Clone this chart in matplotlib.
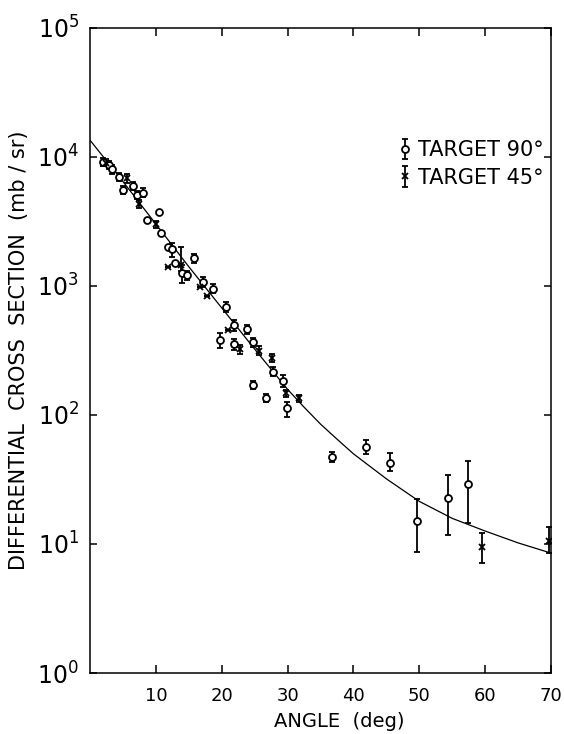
import matplotlib
matplotlib.use("Agg")
import matplotlib.pyplot as plt
import numpy as np

plt.rcParams['font.family'] = ['DejaVu Sans']
plt.rcParams['mathtext.default'] = 'regular'

# target 90 deg (open circles)
ang90 = [2.0, 2.9, 3.4, 4.4, 5.0, 6.5, 7.2, 8.0, 8.7, 10.4, 10.75, 11.9, 12.4, 12.9,
         13.9, 14.8, 15.8, 17.2, 18.7, 19.8, 20.7, 21.8, 21.85, 23.8, 24.7, 24.8,
         26.7, 27.8, 29.35, 29.85, 36.8, 41.9, 45.6, 49.6, 54.4, 57.4]
val90 = [9200, 8700, 8000, 7000, 5550, 5950, 5050, 5300, 3250, 3770, 2590, 1995, 1930, 1500,
         1250, 1217, 1640, 1080, 955, 379, 688, 495, 355, 462, 171, 367,
         135, 217, 184, 113, 47.5, 56.5, 42.7, 15.2, 22.9, 29.0]
lo90 = [700, 600, 600, 500, 400, 450, 350, 400, 0, 0, 0, 0, 250, 0,
        200, 100, 120, 100, 80, 50, 60, 50, 35, 40, 12, 30,
        10, 18, 20, 16, 4.5, 7, 6, 6.6, 11.2, 14.5]
hi90 = [700, 600, 600, 500, 400, 450, 350, 400, 0, 0, 0, 0, 230, 0,
        200, 100, 120, 100, 80, 55, 60, 50, 35, 40, 12, 30,
        10, 18, 20, 14, 4.5, 7, 7.8, 7.0, 11.2, 14.8]

# target 45 deg (crosses)
ang45 = [2.45, 5.6, 7.4, 10.0, 11.9, 13.8, 16.7, 17.7, 20.9, 22.7, 25.7, 27.7,
         29.8, 31.8, 59.5, 69.7]
val45 = [9040, 6840, 4320, 3010, 1400, 1455, 990, 840, 456, 323, 315, 278,
         147, 135, 9.4, 10.5]
lo45 = [600, 500, 300, 200, 0, 150, 0, 0, 0, 25, 25, 20,
        10, 8, 2.3, 2.0]
hi45 = [600, 500, 300, 200, 0, 560, 0, 0, 0, 25, 25, 20,
        10, 8, 2.7, 3.0]

# smooth curve
curve_ang = [0, 5, 10, 15, 20, 25, 30, 32.5, 35, 37.5, 40, 42.5, 45, 50, 55, 60, 65, 70]
curve_val = [13500, 6450, 3020, 1410, 676, 324, 158, 115, 85, 65, 50, 40, 32, 21.4,
             15.8, 12.6, 10.2, 8.5]

fig = plt.figure(figsize=(5.64, 7.34), dpi=100)
ax = fig.add_axes([0.1596, 0.0831, 0.8174, 0.8788])

ax.plot(curve_ang, curve_val, color='black', lw=0.9, zorder=1)

e90 = ax.errorbar(ang90, val90, yerr=[lo90, hi90], fmt='o', ms=5, mfc='white',
                  mec='black', mew=1.3, ecolor='black', elinewidth=1.3, capsize=2.5,
                  capthick=1.3, zorder=3)
e45 = ax.errorbar(ang45, val45, yerr=[lo45, hi45], fmt='x', ms=4, mec='black',
                  mew=1.3, ecolor='black', elinewidth=1.3, capsize=2.5,
                  capthick=1.3, zorder=3)

ax.set_yscale('log')
ax.set_xlim(0, 70)
ax.set_ylim(1, 1e5)

ax.set_xticks([10, 20, 30, 40, 50, 60, 70])
ax.set_xticklabels(['10', '20', '30', '40', '50', '60', '70'], fontsize=13)
yt = [1, 10, 100, 1000, 1e4, 1e5]
ax.set_yticks(yt)
ax.set_yticklabels([r'$10^{%d}$' % i for i in range(6)], fontsize=17)
ax.yaxis.set_minor_locator(matplotlib.ticker.NullLocator())
ax.tick_params(axis='x', direction='in', length=6, width=1.1, top=True, pad=10)
ax.tick_params(axis='y', direction='in', length=5, width=1.1, right=True, pad=8)
for s in ax.spines.values():
    s.set_linewidth(1.1)

ax.set_xlabel('ANGLE  (deg)', fontsize=14, labelpad=4)
ax.xaxis.set_label_coords(0.54, -0.06)
ax.set_ylabel('DIFFERENTIAL  CROSS  SECTION  (mb / sr)', fontsize=15, labelpad=6)

leg = ax.legend([e90, e45], ['TARGET 90°', 'TARGET 45°'], loc='upper left',
                bbox_to_anchor=(0.63, 0.855), frameon=False, fontsize=15,
                handlelength=0.6, handletextpad=0.3, numpoints=1, labelspacing=0.35)

fig.savefig('out.png', dpi=100)
